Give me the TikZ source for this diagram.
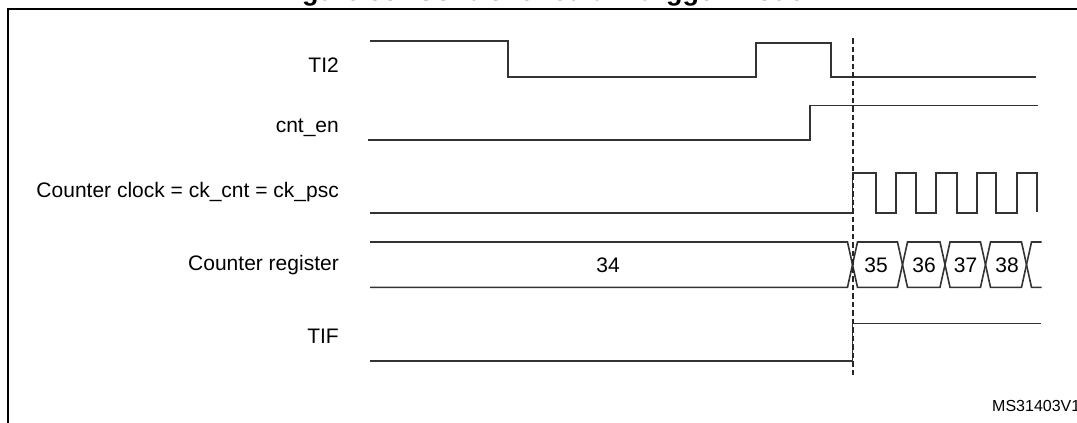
\documentclass[tikz,border=0pt]{standalone}
\usepackage{fontspec}
\setmainfont{Liberation Sans}
\begin{document}
\begin{tikzpicture}[x=1pt,y=-1pt,
  sig/.style={line width=1.6pt, draw=black!80, line join=miter},
  lbl/.style={font=\fontsize{21}{24}\selectfont, anchor=base east, inner sep=0pt},
  val/.style={font=\fontsize{21}{24}\selectfont, anchor=base, inner sep=0pt},
  marker/.style={line width=2pt, draw=black!85, dash pattern=on 5.5pt off 3pt},
  frame/.style={line width=2.5pt, draw=black}]
\useasboundingbox (0,0) rectangle (1077,423);
\clip (0,0) rectangle (1077,423);
% clipped title
\node[anchor=base west, inner sep=0pt, font=\fontsize{27}{30}\selectfont\bfseries] (title) at (278,0.5) {Figure 95. Control circuit in trigger mode};
% frame
\draw[frame] (8,430) -- (8,9) -- (1085,9);
% labels
\node[lbl] (lti) at (339,72.5) {TI2};
\node[lbl] (len) at (339,132) {cnt\_en};
\node[lbl] (lck) at (339,197) {Counter clock = ck\_cnt = ck\_psc};
\node[lbl] (lreg) at (339,270) {Counter register};
\node[lbl] (ltif) at (339,343) {TIF};
% TI2
\draw[sig] (370,41) -- (508,41) -- (508,77) -- (756,77) -- (756,43) -- (831,43) -- (831,77) -- (1036,77);
% cnt_en
\draw[sig] (368,140) -- (810,140) -- (810,105.3) -- (1037.5,105.3);
% counter clock
\draw[sig] (370,212.7) -- (852.5,212.7) -- (852.5,172.7) -- (876,172.7) -- (876,212.7)
  -- (896,212.7) -- (896,172.7) -- (916,172.7) -- (916,212.7)
  -- (936,212.7) -- (936,172.7) -- (957,172.7) -- (957,212.7)
  -- (977,212.7) -- (977,172.7) -- (996,172.7) -- (996,212.7)
  -- (1017,212.7) -- (1017,172.7) -- (1037,172.7) -- (1037,211.5);
% counter register bus
\draw[sig] (370,242) -- (847.5,242) -- (857.5,287.3) -- (897.5,287.3) -- (907.5,242) -- (940,242) -- (950,287.3) -- (980.5,287.3) -- (990.5,242) -- (1021.5,242) -- (1031.5,287.3) -- (1041.5,287.3);
\draw[sig] (370,287.3) -- (847.5,287.3) -- (857.5,242) -- (897.5,242) -- (907.5,287.3) -- (940,287.3) -- (950,242) -- (980.5,242) -- (990.5,287.3) -- (1021.5,287.3) -- (1031.5,242) -- (1041.5,242);
\node[val] (v34) at (608,272.5) {34};
\node[val] (v35) at (876,272.5) {35};
\node[val] (v36) at (924,272.5) {36};
\node[val] (v37) at (965.5,272.5) {37};
\node[val] (v38) at (1007,272.5) {38};
% TIF
\draw[sig] (370,360.7) -- (852.5,360.7) -- (852.5,323.3) -- (1040.7,323.3);
% dashed marker
\draw[marker] (852.5,38) -- (852.5,376);
% reference
\node[anchor=base west, inner sep=0pt, font=\fontsize{16}{18}\selectfont] (ref) at (992,411.7) {MS31403V1};
\end{tikzpicture}
\end{document}
